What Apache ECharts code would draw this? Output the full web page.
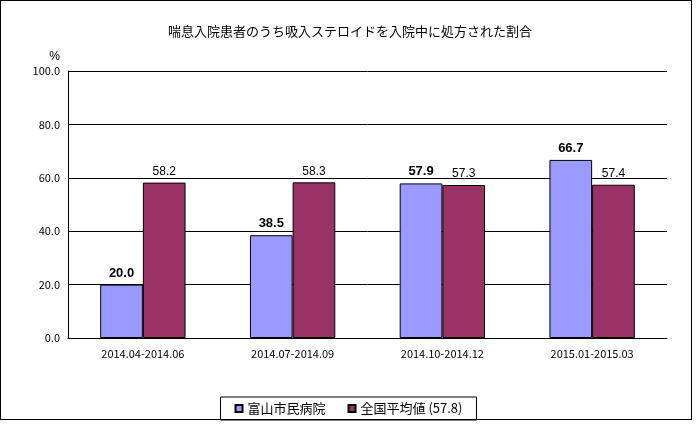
<!DOCTYPE html>
<html><head><meta charset="utf-8">
<script src="https://cdn.jsdelivr.net/npm/echarts@6/dist/echarts.min.js"></script>
<style>body{margin:0;background:#fff}#c{width:697px;height:429px}
#b{position:absolute;left:0;top:0;width:692px;height:420px;border:1px solid #000;box-sizing:border-box;pointer-events:none}</style>
</head><body><div id="c"></div><div id="b"></div>
<script>
const categories=["2014.04-2014.06","2014.07-2014.09","2014.10-2014.12","2015.01-2015.03"];
const toyama=[20.0,38.5,57.9,66.7];
const national=[58.2,58.3,57.3,57.4];
const seriesNames=["富山市民病院","全国平均値 (57.8)"];
const ff='"Noto Sans CJK JP", sans-serif';
const chart=echarts.init(document.getElementById('c'));
chart.setOption({
  animation:false,
  title:{text:"喘息入院患者のうち吸入ステロイドを入院中に処方された割合",left:345,top:20,textAlign:'center',textStyle:{fontSize:13,fontWeight:'normal',fontFamily:ff,color:'#000'}},
  grid:{left:68,right:30,top:71,bottom:91},
  legend:{bottom:9,left:'center',itemWidth:7,itemHeight:7,itemGap:22,borderColor:'#000',borderWidth:1,padding:[5,14],borderRadius:0,
    textStyle:{fontSize:13,fontFamily:ff,color:'#000'},icon:'rect'},
  xAxis:{type:'category',data:categories,axisTick:{show:false},axisLine:{lineStyle:{color:'#000'}},
    axisLabel:{color:'#000',fontSize:11,fontFamily:ff,margin:10}},
  yAxis:{type:'value',min:0,max:100,interval:20,name:'%',nameGap:8,nameTextStyle:{color:'#000',fontSize:12,align:'right',padding:[0,8,0,0]},
    axisLine:{show:true,lineStyle:{color:'#000'}},axisTick:{show:true,inside:true,length:4,lineStyle:{color:'#000'}},
    splitLine:{lineStyle:{color:'#000'}},axisLabel:{color:'#000',fontSize:11,fontFamily:ff,formatter:v=>v.toFixed(1)}},
  series:[
    {name:seriesNames[0],type:'bar',data:toyama,barGap:'0%',barCategoryGap:'43%',
     itemStyle:{color:'#9999FF',borderColor:'#000',borderWidth:1},
     label:{show:true,position:'top',fontWeight:'bold',fontSize:13,color:'#000',formatter:p=>p.value.toFixed(1)}},
    {name:seriesNames[1],type:'bar',data:national,
     itemStyle:{color:'#993366',borderColor:'#000',borderWidth:1},
     label:{show:true,position:'top',fontSize:12,color:'#000',formatter:p=>p.value.toFixed(1)}}
  ]
});
</script></body></html>
